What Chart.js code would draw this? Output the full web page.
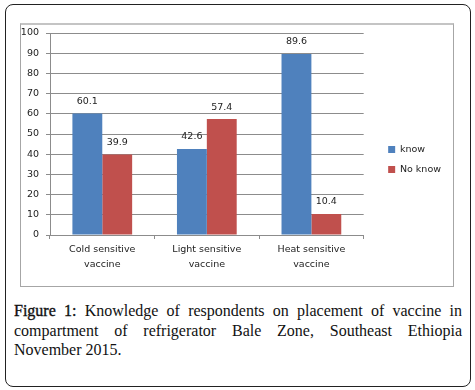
<!DOCTYPE html>
<html>
<head>
<meta charset="utf-8">
<script src="https://cdn.jsdelivr.net/npm/chart.js@4.4.1/dist/chart.umd.min.js"></script>
<style>
  html, body { margin: 0; padding: 0; background: #fff; }
  body { width: 475px; height: 390px; position: relative; overflow: hidden; }
  #frame { position: absolute; left: 5px; top: 4px; width: 464px; height: 381px;
           border: 1.5px solid #222; border-radius: 8px; }
  #box { position: absolute; left: 20px; top: 23px; width: 432px; height: 261px;
         border: 1px solid #a6a6a6; border-top: 2px solid #c4c4c4; }
  #box canvas { display: block; }
  #cap { position: absolute; left: 14px; top: 301px; width: 448px;
         font-family: "Liberation Serif", "DejaVu Serif", serif; font-size: 16px;
         line-height: 19.5px; color: #111; }
  #cap span { display: block; text-align: justify; text-align-last: justify; white-space: nowrap; }
  #cap span.last { text-align-last: left; }
  #cap b { font-weight: normal; -webkit-text-stroke: 0.35px #111; }
</style>
</head>
<body>
<div id="frame"></div>
<div id="box"><canvas id="c" width="432" height="261"></canvas></div>
<div id="cap"><span><b>Figure 1:</b> Knowledge of respondents on placement of vaccine in</span><span>compartment of refrigerator Bale Zone, Southeast Ethiopia</span><span class="last">November 2015.</span></div>
<script>
const categories = [["Cold sensitive", "vaccine"], ["Light sensitive", "vaccine"], ["Heat sensitive", "vaccine"]];
const seriesNames = ["know", "No know"];
const knowValues = [60.1, 42.6, 89.6];
const noKnowValues = [39.9, 57.4, 10.4];
const yTicks = [0, 10, 20, 30, 40, 50, 60, 70, 80, 90, 100];

const FONT = { family: "DejaVu Sans", size: 9.5 };
const GRID = "#8c8c8c";

const valueLabels = {
  id: "valueLabels",
  afterDatasetsDraw(chart) {
    const ctx = chart.ctx;
    ctx.save();
    ctx.font = FONT.size + "px " + FONT.family;
    ctx.fillStyle = "#222";
    ctx.textAlign = "center";
    ctx.textBaseline = "middle";
    chart.data.datasets.forEach((ds, i) => {
      const meta = chart.getDatasetMeta(i);
      meta.data.forEach((bar, j) => {
        ctx.fillText(String(ds.data[j]), bar.x, bar.y - 12);
      });
    });
    ctx.restore();
  }
};

new Chart(document.getElementById("c"), {
  type: "bar",
  data: {
    labels: categories,
    datasets: [
      { label: seriesNames[0], data: knowValues, backgroundColor: "#4f81bd" },
      { label: seriesNames[1], data: noKnowValues, backgroundColor: "#c0504d" }
    ]
  },
  options: {
    responsive: false,
    animation: false,
    events: [],
    layout: { padding: { top: 8, left: 0, right: 4, bottom: 0 } },
    datasets: { bar: { categoryPercentage: 2 / 3.5, barPercentage: 1.0 } },
    plugins: {
      tooltip: { enabled: false },
      legend: {
        position: "right",
        labels: { boxWidth: 7, boxHeight: 7, padding: 10.5, color: "#222", font: FONT }
      }
    },
    scales: {
      x: {
        grid: { offset: true, drawOnChartArea: false, drawTicks: true, tickLength: 4, color: GRID },
        border: { display: true, color: GRID },
        ticks: { color: "#222", font: { ...FONT, lineHeight: 1.58 }, padding: 3, maxRotation: 0, autoSkip: false },
        afterFit(s) { s.height = 51; }
      },
      y: {
        min: 0, max: 100,
        afterBuildTicks(s) { s.ticks = yTicks.map(v => ({ value: v })); },
        grid: { color: GRID, tickLength: 4 },
        border: { display: true, color: GRID },
        ticks: { color: "#222", font: FONT, padding: 7 },
        afterFit(s) { s.width = 29; s.paddingTop = 0; s.paddingBottom = 0; }
      },
      y2: {
        position: "right",
        display: true,
        grid: { display: false, drawOnChartArea: false },
        border: { display: false },
        ticks: { display: false },
        afterFit(s) { s.width = 14; s.paddingTop = 0; s.paddingBottom = 0; }
      }
    }
  },
  plugins: [valueLabels]
});
</script>
</body>
</html>
